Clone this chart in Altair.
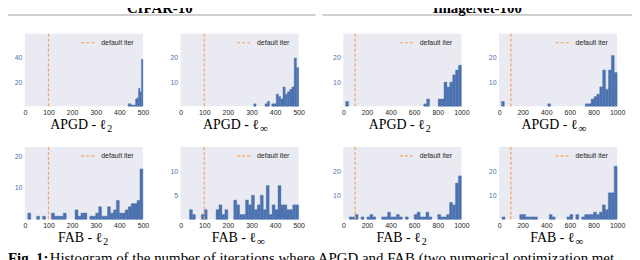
import altair as alt
import pandas as pd

# ---------------- data ----------------
cifar_xticks = [0, 100, 200, 300, 400, 500]
imnet_xticks = [0, 200, 400, 600, 800, 1000]
default_iter = [100]

# CIFAR-10  APGD - l2   (bins start at 437.5, width 6.25)
c_apgd_l2_lo, c_apgd_l2_w = 437.5, 6.25
c_apgd_l2_n = [2, 2, 1, 1, 1, 6, 7, 15, 12, 39]

# CIFAR-10  APGD - linf (bins start at 310, width 9.5)
c_apgd_linf_lo, c_apgd_linf_w = 310, 9.5
c_apgd_linf_n = [1, 0, 0, 0, 0, 1, 2, 0, 1, 1, 5, 4, 3, 8, 5, 6, 7, 8, 20, 16]

# ImageNet-100 APGD - l2 (bins start at 20, width 24.5)
i_apgd_l2_lo, i_apgd_l2_w = 20, 24.5
i_apgd_l2_n = [2, 0, 0, 0, 0, 0, 0, 0, 0, 0,
               0, 0, 0, 0, 0, 0, 0, 0, 0, 0,
               0, 0, 0, 0, 0, 0, 0, 1, 3, 0,
               0, 0, 3, 3, 10, 8, 10, 13, 15, 17]

# ImageNet-100 APGD - linf
i_apgd_linf_lo, i_apgd_linf_w = 20, 24.5
i_apgd_linf_n = [2, 0, 0, 0, 0, 0, 0, 0, 0, 0,
                 0, 0, 0, 0, 0, 0, 1, 0, 0, 0,
                 0, 0, 0, 0, 0, 0, 0, 0, 0, 1,
                 1, 3, 4, 5, 8, 15, 7, 15, 21, 14]

# CIFAR-10  FAB - l2
c_fab_l2_lo, c_fab_l2_w = 0, 12.5
c_fab_l2_n = [0, 2, 0, 0, 1, 0, 1, 0, 0, 2,
              1, 1, 1, 2, 0, 0, 0, 3, 1, 2,
              2, 0, 1, 1, 2, 4, 1, 1, 4, 2,
              3, 6, 2, 2, 3, 4, 5, 5, 6, 16]

# CIFAR-10  FAB - linf
c_fab_linf_lo, c_fab_linf_w = 0, 12.5
c_fab_linf_n = [0, 0, 0, 2, 1, 0, 0, 1, 2, 0,
                0, 0, 2, 3, 1, 2, 0, 0, 4, 3,
                1, 1, 4, 3, 5, 2, 3, 5, 2, 7,
                1, 3, 2, 7, 3, 3, 2, 2, 3, 3]

# ImageNet-100 FAB - l2
i_fab_l2_lo, i_fab_l2_w = 0, 25
i_fab_l2_n = [0, 0, 1, 1, 2, 0, 1, 0, 1, 2,
              1, 0, 0, 1, 1, 3, 1, 1, 2, 1,
              0, 1, 0, 0, 2, 3, 1, 1, 3, 1,
              0, 0, 2, 1, 1, 2, 7, 6, 15, 18]

# ImageNet-100 FAB - linf
i_fab_linf_lo, i_fab_linf_w = 0, 25
i_fab_linf_n = [0, 1, 0, 0, 0, 0, 0, 2, 2, 1,
                1, 1, 1, 0, 0, 0, 0, 2, 1, 0,
                0, 0, 0, 1, 2, 0, 2, 0, 1, 2,
                2, 2, 3, 2, 3, 6, 4, 11, 11, 22]

# ---------------- style ----------------
PW, PH = 119, 73
BLUE = "#4c72b0"
ORANGE = "#f5a25d"
BG = "#eaeaf2"
SERIF = "Liberation Serif"
SANS = "Liberation Sans"
ONE = pd.DataFrame({"_": [0]})


def hist_df(lo, w, counts):
    rows = [{"lo": lo + i * w, "hi": lo + (i + 1) * w, "n": c, "z": 0}
            for i, c in enumerate(counts) if c > 0]
    return pd.DataFrame(rows)


def panel(df, xmax, xticks, ymax, yticks, main, sub, sub_size, main_right,
          width=PW, extras=()):
    xscale = alt.Scale(domain=[0, xmax], range=[0, PW], nice=False, zero=False)
    yscale = alt.Scale(domain=[0, ymax], nice=False)
    xaxis = alt.Axis(values=xticks, format="d", title=None, grid=False,
                     domain=False, ticks=False, tickSize=0, labelPadding=2,
                     labelFontSize=7, labelFont=SANS, labelColor="#262626",
                     labelFlush=False, labelOverlap=False)
    yaxis = alt.Axis(values=yticks, format="d", title=None, grid=False,
                     domain=False, ticks=False, tickSize=0, labelPadding=3,
                     labelFontSize=7, labelFont=SANS, labelColor=BLUE,
                     labelFlush=False, labelOverlap=False)
    bg = alt.Chart(ONE).mark_rect(color=BG).encode(
        x=alt.value(0), x2=alt.value(PW), y=alt.value(0), y2=alt.value(PH))
    bars = alt.Chart(df).mark_rect(color=BLUE, stroke=BLUE, strokeWidth=0.4).encode(
        x=alt.X("lo:Q", scale=xscale, axis=xaxis),
        x2="hi:Q",
        y=alt.Y("n:Q", scale=yscale, axis=yaxis),
        y2="z:Q",
    )
    vline = alt.Chart(pd.DataFrame({"lo": default_iter})).mark_rule(
        color=ORANGE, strokeDash=[3, 2], strokeWidth=1.2).encode(
        x=alt.X("lo:Q", scale=xscale, axis=xaxis))
    leg_line = alt.Chart(ONE).mark_rule(
        color=ORANGE, strokeDash=[3, 2], strokeWidth=1.2).encode(
        x=alt.value(57), x2=alt.value(72), y=alt.value(9))
    leg_text = alt.Chart(ONE).mark_text(
        text="default iter", align="left", baseline="middle", font=SANS,
        fontSize=7, color="#262626").encode(x=alt.value(77), y=alt.value(9))
    cap_main = alt.Chart(ONE).mark_text(
        text=main, align="right", baseline="alphabetic", font=SERIF,
        fontSize=14, color="black").encode(
        x=alt.value(main_right), y=alt.value(PH + 23))
    cap_sub = alt.Chart(ONE).mark_text(
        text=sub, align="left", baseline="alphabetic", font=SERIF,
        fontSize=sub_size, color="black").encode(
        x=alt.value(main_right + 1), y=alt.value(PH + 26))
    return alt.layer(bg, bars, vline, leg_line, leg_text, cap_main, cap_sub,
                     *extras).properties(width=width, height=PH)


def hline(x1, x2):
    return alt.Chart(ONE).mark_rule(color="#a0a0a0", strokeWidth=1).encode(
        x=alt.value(x1), x2=alt.value(x2), y=alt.value(-19))


def htext(text, xc):
    return alt.Chart(ONE).mark_text(
        text=text, align="center", baseline="alphabetic", font=SERIF,
        fontSize=15, fontWeight="bold", color="black").encode(
        x=alt.value(xc), y=alt.value(-21))


# invisible marker fixing the top-left corner of the drawing
anchor = alt.Chart(ONE).mark_rule(color="white", strokeWidth=2).encode(
    x=alt.value(-30), y=alt.value(-48), y2=alt.value(-47))

headers = [hline(-17, 293), hline(300, 612),
           htext("CIFAR-10", 136), htext("ImageNet-100", 456)]

fig_bold = alt.Chart(ONE).mark_text(
    text="Fig. 1:", align="left", baseline="alphabetic", font=SERIF,
    fontSize=15, fontWeight="bold", color="black").encode(
    x=alt.value(-17), y=alt.value(117))
fig_rest = alt.Chart(ONE).mark_text(
    text="Histogram of the number of iterations where APGD and FAB (two numerical optimization methods",
    align="left", baseline="alphabetic", font=SERIF, fontSize=15,
    color="black", limit=588, ellipsis="").encode(
    x=alt.value(25), y=alt.value(117))

p1 = panel(hist_df(c_apgd_l2_lo, c_apgd_l2_w, c_apgd_l2_n), 500, cifar_xticks,
           60, [20, 40], "APGD - \u2113", "2", 10, 82,
           extras=[anchor] + headers)
p2 = panel(hist_df(c_apgd_linf_lo, c_apgd_linf_w, c_apgd_linf_n), 500, cifar_xticks,
           30, [10, 20], "APGD - \u2113", "\u221e", 11, 79, width=PW + 7)
p3 = panel(hist_df(i_apgd_l2_lo, i_apgd_l2_w, i_apgd_l2_n), 1000, imnet_xticks,
           30, [10, 20], "APGD - \u2113", "2", 10, 82)
p4 = panel(hist_df(i_apgd_linf_lo, i_apgd_linf_w, i_apgd_linf_n), 1000, imnet_xticks,
           30, [10, 20], "APGD - \u2113", "\u221e", 11, 79)
p5 = panel(hist_df(c_fab_l2_lo, c_fab_l2_w, c_fab_l2_n), 500, cifar_xticks,
           23, [10, 20], "FAB - \u2113", "2", 10, 78,
           extras=[fig_bold, fig_rest])
p6 = panel(hist_df(c_fab_linf_lo, c_fab_linf_w, c_fab_linf_n), 500, cifar_xticks,
           15, [5, 10], "FAB - \u2113", "\u221e", 11, 76, width=PW + 7)
p7 = panel(hist_df(i_fab_l2_lo, i_fab_l2_w, i_fab_l2_n), 1000, imnet_xticks,
           30, [10, 20], "FAB - \u2113", "2", 10, 78)
p8 = panel(hist_df(i_fab_linf_lo, i_fab_linf_w, i_fab_linf_n), 1000, imnet_xticks,
           30, [10, 20], "FAB - \u2113", "\u221e", 11, 76)

chart = alt.concat(
    p1, p2, p3, p4, p5, p6, p7, p8,
    columns=4, spacing={"row": 41, "column": 38}, bounds="flush", align="each",
).properties(
    padding={"left": -14, "top": -24, "right": -1, "bottom": 0},
    background="white",
).configure_view(strokeWidth=0)

chart.save("out.html", embed_options={"renderer": "svg", "actions": False})
